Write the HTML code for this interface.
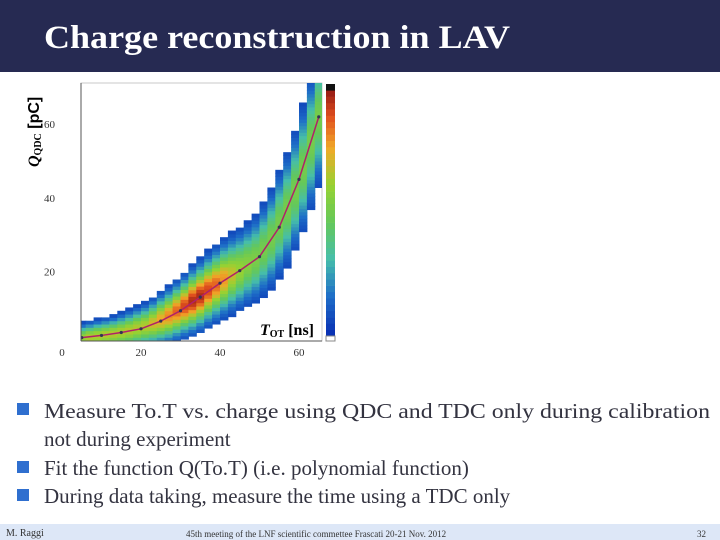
<!DOCTYPE html>
<html><head><meta charset="utf-8"><style>
body{margin:0;width:720px;height:540px;overflow:hidden;background:#fff}
svg{display:block}
text{font-family:"Liberation Serif",serif}
</style></head><body>
<svg id="s" width="720" height="540" viewBox="0 0 720 540">
<rect x="0" y="0" width="720" height="72" fill="#262a52"/>
<text x="44" y="48" font-size="33" font-weight="bold" fill="#fff" textLength="466" lengthAdjust="spacingAndGlyphs">Charge reconstruction in LAV</text>
<g id="plot">
<clipPath id="cp"><rect x="81" y="83" width="241" height="258"/></clipPath>
<rect x="81" y="83" width="241" height="258" fill="#fff" stroke="#bbb" stroke-width="0.8"/>
<g id="cells" clip-path="url(#cp)"></g>
<g id="fit" clip-path="url(#cp)"></g>
<line x1="81" y1="83" x2="81" y2="341" stroke="#555" stroke-width="1"/>
<line x1="81" y1="341" x2="322" y2="341" stroke="#555" stroke-width="1"/>
<g id="axes"></g>
<text x="314" y="335" font-family="Liberation Sans,sans-serif" font-size="16" font-weight="bold" text-anchor="end" fill="#000"><tspan font-family="Liberation Serif,serif" font-style="italic">T</tspan><tspan font-family="Liberation Serif,serif" font-size="10" dy="2">OT</tspan><tspan dy="-2"> [ns]</tspan></text>
<text transform="translate(39,167) rotate(-90)" font-size="16" font-weight="bold" fill="#000"><tspan font-style="italic">Q</tspan><tspan font-size="10" dy="2">QDC</tspan><tspan dy="-2" font-family="Liberation Sans,sans-serif"> [pC]</tspan></text>
<g id="cbar"></g>
</g>
<g fill="#333340" font-size="21">
<rect x="17" y="403" width="12" height="12" fill="#2f6fcf"/>
<text x="44" y="418" textLength="666" lengthAdjust="spacingAndGlyphs">Measure To.T vs. charge using QDC and TDC only during calibration</text>
<text x="44" y="446">not during experiment</text>
<rect x="17" y="461" width="12" height="12" fill="#2f6fcf"/>
<text x="44" y="475">Fit the function Q(To.T) (i.e. polynomial function)</text>
<rect x="17" y="489" width="12" height="12" fill="#2f6fcf"/>
<text x="44" y="503">During data taking, measure the time using a TDC only</text>
</g>
<rect x="0" y="524" width="720" height="16" fill="#dde7f7"/>
<text x="6" y="536" font-size="10" fill="#333">M. Raggi</text>
<text x="186" y="537" font-size="9" fill="#333">45th meeting of the LNF scientific commettee Frascati 20-21 Nov. 2012</text>
<text x="697" y="537" font-size="9" fill="#333">32</text>
</svg>
<script>
const tBins=[5,7,9,11,13,15,17,19,21,23,25,27,29,31,33,35,37,39,41,43,45,47,49,51,53,55,57,59,61,63,65];
const qCenter=[2,2.2,2.5,2.8,3.1,3.5,4,4.6,5.2,6,7,8,9.3,10.6,12,13.4,15,16.5,18,19.3,20.5,22,23.5,26,29,33,37,42,48,55,62];
const qSpread=[2.2,2.3,2.4,2.5,2.6,2.8,3,3.2,3.4,3.6,3.9,4.1,4.3,4.5,4.8,5,5.2,5.4,5.6,5.8,6,6.2,6.5,7,7.5,8,8.5,9,9.5,10,10.5];
const peak=[0.6,0.65,0.65,0.65,0.65,0.65,0.65,0.65,0.65,0.7,0.75,0.8,0.85,0.9,0.95,0.95,0.9,0.85,0.78,0.68,0.6,0.55,0.52,0.5,0.5,0.5,0.5,0.5,0.5,0.5,0.5];
const fitT=[5,10,15,20,25,30,35,40,45,50,55,60,65];
const fitQ=[2,2.6,3.4,4.4,6.5,9.3,13,16.8,20.2,24,32,45,62];
const xTicks=[0,20,40,60];
const yTicks=[20,40,60];
const NS="http://www.w3.org/2000/svg";
function xS(t){return 62+t*3.95;}
function yS(q){return 345-q*3.68;}
function col(v){
  const stops=[[0,[10,50,180]],[0.15,[30,110,200]],[0.3,[70,190,170]],[0.45,[100,200,90]],[0.6,[150,210,50]],[0.75,[240,170,40]],[0.88,[225,80,30]],[1,[140,20,20]]];
  for(let i=1;i<stops.length;i++){if(v<=stops[i][0]){const a=stops[i-1],b=stops[i];const f=(v-a[0])/(b[0]-a[0]);const c=a[1].map((x,k)=>Math.round(x+(b[1][k]-x)*f));return `rgb(${c})`;}}
  return "rgb(140,20,20)";
}
const cells=document.getElementById('cells');
const dq=0.9;
tBins.forEach((t,i)=>{
  const c=qCenter[i],s=qSpread[i];
  for(let q=Math.max(0.3,c-2*s);q<c+2*s;q+=dq){
    const d=(q+dq/2-c)/s;const v=peak[i]*Math.exp(-d*d/1.6);
    if(v<0.06)continue;
    const r=document.createElementNS(NS,'rect');
    r.setAttribute('x',xS(t-1));r.setAttribute('y',yS(q+dq));
    r.setAttribute('width',xS(t+1)-xS(t-1)+0.5);r.setAttribute('height',yS(q)-yS(q+dq)+0.5);
    r.setAttribute('fill',col(v));
    
    
    cells.appendChild(r);
  }
});
const fit=document.getElementById('fit');
const pl=document.createElementNS(NS,'polyline');
pl.setAttribute('points',fitT.map((t,i)=>xS(t)+','+yS(fitQ[i])).join(' '));
pl.setAttribute('fill','none');pl.setAttribute('stroke','#b0206a');pl.setAttribute('stroke-width','1.5');


fit.appendChild(pl);
fitT.forEach((t,i)=>{const c=document.createElementNS(NS,'circle');c.setAttribute('cx',xS(t));c.setAttribute('cy',yS(fitQ[i]));c.setAttribute('r',1.6);c.setAttribute('fill','#335');


fit.appendChild(c);});
const ax=document.getElementById('axes');
xTicks.forEach(v=>{const tx=document.createElementNS(NS,'text');tx.setAttribute('x',xS(v));tx.setAttribute('y',356);tx.setAttribute('font-size','11');tx.setAttribute('text-anchor','middle');tx.setAttribute('fill','#333');tx.textContent=v;


ax.appendChild(tx);});
yTicks.forEach(v=>{const tx=document.createElementNS(NS,'text');tx.setAttribute('x',55);tx.setAttribute('y',yS(v)+4);tx.setAttribute('font-size','11');tx.setAttribute('text-anchor','end');tx.setAttribute('fill','#333');tx.textContent=v;


ax.appendChild(tx);});
const cb=document.getElementById('cbar');
for(let k=0;k<40;k++){const r=document.createElementNS(NS,'rect');const v=k/39;r.setAttribute('x',326);r.setAttribute('y',336-(k+1)*6.3);r.setAttribute('width',9);r.setAttribute('height',6.6);r.setAttribute('fill',k===39?'#111':col(v));


cb.appendChild(r);}
const w=document.createElementNS(NS,'rect');w.setAttribute('x',326);w.setAttribute('y',336);w.setAttribute('width',9);w.setAttribute('height',5);w.setAttribute('fill','#fff');w.setAttribute('stroke','#888');


cb.appendChild(w);
</script>
</body></html>
